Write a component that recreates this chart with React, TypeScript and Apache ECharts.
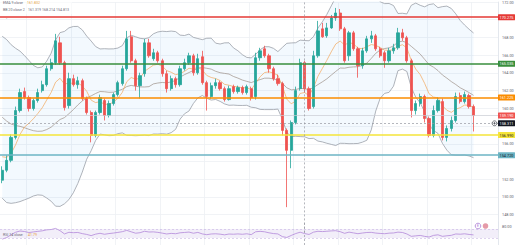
import React, { useEffect, useRef } from "react";
import * as echarts from "echarts";

// closes before the first visible candle (needed for the 20-period bands / RSI)
const priorCloses = [162.0, 162.8, 163.4, 163.0, 163.8, 164.2, 163.6, 164.0, 163.2, 162.2, 161.0, 159.8, 158.4, 157.0, 155.8, 154.6, 153.4, 152.6, 152.2, 151.9];

const opens = [151.89, 153.01, 154.13, 156.72, 159.75, 161.89, 161.21, 159.98, 160.88, 162.0, 162.67, 164.47, 165.15, 167.39, 165.15, 160.31, 163.35, 162.67, 163.12, 161.1, 159.53, 156.94, 159.53, 160.88, 159.19, 160.54, 161.55, 162.79, 164.47, 168.07, 165.37, 162.56, 163.91, 167.39, 165.6, 166.27, 165.37, 163.91, 162.22, 163.35, 162.67, 164.47, 165.15, 165.93, 164.02, 165.82, 162.9, 161.33, 162.56, 162.9, 162.22, 160.99, 162.45, 161.89, 162.34, 161.78, 162.22, 161.33, 165.71, 166.72, 165.93, 164.47, 163.35, 162.79, 157.51, 155.26, 158.4, 162.22, 165.15, 162.22, 160.2, 165.93, 168.97, 168.18, 169.08, 170.2, 170.76, 168.97, 165.93, 168.52, 166.72, 164.81, 166.49, 167.84, 168.18, 166.72, 166.27, 165.37, 166.49, 166.83, 168.52, 167.96, 165.37, 159.75, 160.54, 161.33, 158.85, 156.94, 159.75, 160.76, 156.72, 157.73, 158.63, 161.44, 160.76, 161.44, 160.2];
const closes = [153.01, 154.13, 156.72, 159.75, 161.78, 161.21, 159.98, 160.88, 161.78, 162.67, 164.47, 165.15, 167.62, 165.15, 160.09, 163.35, 162.67, 163.12, 161.1, 159.53, 156.94, 159.53, 161.21, 159.19, 160.54, 161.55, 162.9, 164.47, 167.84, 165.37, 162.56, 163.69, 167.39, 165.93, 166.27, 165.37, 163.91, 162.22, 163.35, 162.67, 164.47, 165.15, 165.93, 164.02, 165.6, 162.9, 161.33, 162.56, 162.9, 162.22, 160.99, 162.22, 161.89, 162.34, 161.78, 162.45, 161.21, 165.71, 166.49, 165.93, 164.47, 163.35, 162.79, 157.51, 155.26, 158.4, 162.0, 165.15, 162.22, 159.98, 165.93, 168.74, 168.07, 169.08, 170.2, 170.76, 168.97, 165.37, 168.52, 166.72, 164.81, 166.49, 167.84, 168.18, 166.72, 165.93, 165.37, 166.49, 166.83, 168.52, 167.96, 165.37, 159.75, 160.54, 161.33, 158.85, 156.94, 159.75, 160.88, 156.72, 157.73, 158.63, 161.33, 160.76, 161.55, 160.2, 159.19];
const lows = [151.55, 152.79, 153.91, 156.49, 159.53, 160.99, 159.64, 159.75, 160.65, 161.78, 162.45, 164.25, 164.92, 164.92, 159.75, 159.98, 162.45, 162.22, 160.88, 159.3, 156.16, 156.72, 159.3, 158.63, 158.97, 160.31, 161.33, 162.56, 164.25, 165.15, 162.0, 161.1, 163.57, 165.71, 165.37, 165.15, 163.57, 161.78, 162.0, 162.34, 162.45, 164.25, 164.92, 163.69, 163.8, 162.67, 159.75, 161.1, 162.22, 162.0, 160.76, 160.88, 161.66, 161.66, 161.55, 161.55, 160.88, 160.99, 165.37, 165.71, 164.02, 163.12, 162.56, 156.94, 148.85, 153.24, 158.18, 162.0, 161.78, 159.75, 159.98, 165.71, 167.96, 167.96, 168.97, 169.87, 168.74, 165.15, 165.37, 166.49, 163.46, 164.47, 166.27, 167.39, 166.49, 165.71, 164.58, 165.15, 166.16, 166.61, 167.62, 165.15, 158.97, 159.3, 160.2, 158.4, 156.72, 156.72, 159.53, 156.38, 156.27, 157.39, 158.4, 160.54, 160.54, 159.98, 157.39];
const highs = [153.46, 154.7, 157.06, 160.2, 162.22, 162.34, 161.44, 161.1, 162.22, 163.12, 164.81, 165.6, 168.4, 168.07, 165.37, 164.02, 163.8, 163.57, 163.35, 161.33, 159.75, 159.75, 161.55, 161.1, 160.88, 161.78, 163.12, 164.81, 168.74, 168.74, 165.6, 164.02, 167.84, 167.84, 166.72, 166.49, 165.6, 164.25, 163.69, 163.57, 164.81, 165.6, 166.27, 166.16, 166.16, 166.49, 163.12, 162.9, 163.35, 163.12, 162.45, 162.56, 162.67, 162.56, 162.56, 162.67, 162.45, 166.27, 166.83, 167.06, 166.16, 164.7, 163.8, 163.01, 157.73, 158.63, 162.45, 165.6, 165.37, 162.45, 166.49, 169.87, 169.64, 169.64, 170.54, 171.33, 171.21, 169.19, 168.74, 168.74, 166.94, 166.83, 168.18, 168.74, 168.4, 166.94, 166.49, 166.83, 167.28, 169.08, 168.97, 168.18, 165.6, 160.88, 161.66, 161.55, 159.08, 160.31, 161.21, 161.1, 158.07, 159.08, 161.78, 161.78, 161.89, 161.66, 160.43];

const emptySlots = 5;
const priceTicksHidden = [146, 170, 158, 154];

const levelPrices = [170.275, 165.035, 161.225, 156.99, 154.72];
const crossPrice = 158.311;
const crossIndex = 68;

const emaHeader = "161.832";
const bbHeader = ["161.319", "168.214", "154.813"];
const rsiHeader = "41.79";

const levelColors = ["#e53935", "#388e3c", "#fb8c00", "#f5e43a", "#6cb4c4"];
const levelTextColors = ["#ffffff", "#ffffff", "#ffffff", "#131722", "#131722"];

function computeIndicators() {
  const all = priorCloses.concat(closes);
  const P = priorCloses.length;
  const upper: number[] = [], lower: number[] = [], basis: number[] = [], band: number[] = [];
  for (let v = 0; v < closes.length; v++) {
    const i = v + P;
    const win = all.slice(i - 19, i + 1);
    const m = win.reduce((a, b) => a + b, 0) / win.length;
    const sd = Math.sqrt(win.reduce((a, b) => a + (b - m) * (b - m), 0) / win.length);
    basis.push(m);
    upper.push(m + 2 * sd);
    lower.push(m - 2 * sd);
    band.push(4 * sd);
  }
  // EMA 9
  const k = 2 / 10;
  let ema = all.slice(0, 9).reduce((a, b) => a + b, 0) / 9;
  const emaAll: number[] = [];
  for (let i = 0; i < all.length; i++) {
    if (i >= 9) ema = all[i] * k + ema * (1 - k);
    emaAll.push(ema);
  }
  const emaVis = emaAll.slice(P);
  // RSI 14 (Wilder)
  let g = 0, l = 0;
  for (let i = 1; i <= 14; i++) {
    const d = all[i] - all[i - 1];
    if (d > 0) g += d; else l -= d;
  }
  g /= 14; l /= 14;
  const rsiAll: (number | null)[] = [];
  for (let i = 0; i < all.length; i++) {
    if (i < 14) { rsiAll.push(null); continue; }
    if (i > 14) {
      const d = all[i] - all[i - 1];
      g = (g * 13 + Math.max(d, 0)) / 14;
      l = (l * 13 + Math.max(-d, 0)) / 14;
    }
    rsiAll.push(l === 0 ? 100 : 100 - 100 / (1 + g / l));
  }
  return { upper, lower, basis, band, emaVis, rsi: rsiAll.slice(P) };
}

export default function App() {
  const ref = useRef<HTMLDivElement>(null);
  useEffect(() => {
    document.body.style.margin = "0";
    document.body.style.overflow = "hidden";
    if (!ref.current) return;
    const chart = echarts.init(ref.current, null, { renderer: "svg" });
    const { lower, basis, band, emaVis, rsi } = computeIndicators();
    const n = closes.length;
    const categories = Array.from({ length: n + emptySlots }, (_, i) => String(i));
    const candles = closes.map((c, i) => [opens[i], c, lows[i], highs[i]]);
    const lastClose = closes[n - 1];
    const font = "Roboto, 'Noto Sans', sans-serif";
    const tag = (text: string, bg: string, fg: string) => ({
      show: true,
      position: "end" as const,
      distance: 0,
      formatter: text,
      backgroundColor: bg,
      color: fg,
      fontSize: 3.8,
      fontFamily: font,
      padding: [1.2, 1.6, 0.8, 1.6],
      borderRadius: 0.5,
    });
    const gridLineColor = "#eef0f4";
    const splitColors = ["rgba(0,0,0,0)"].concat(Array(13).fill(gridLineColor));
    const vSplit = {
      show: true,
      interval: (idx: number) => idx % 10 === 6,
      lineStyle: { color: gridLineColor, width: 0.8 },
    };
    const levelData: any[] = levelPrices.map((p, i) => ({
      yAxis: p,
      lineStyle: { color: levelColors[i], width: 1.6, type: "solid" },
      label: tag(p.toFixed(3), levelColors[i], levelTextColors[i]),
    }));
    levelData.push({
      yAxis: lastClose,
      lineStyle: { color: "#c9ccd3", width: 0.7, type: "solid" },
      label: tag(lastClose.toFixed(3), "#ef5350", "#ffffff"),
    });
    levelData.push({
      yAxis: crossPrice,
      lineStyle: { color: "#9598a1", width: 0.7, type: [2, 2] },
      label: tag(crossPrice.toFixed(3), "#131722", "#ffffff"),
    });
    levelData.push({
      xAxis: crossIndex,
      lineStyle: { color: "#9598a1", width: 0.7, type: [2, 2] },
      label: { show: false },
    });
    const smallText = (text: string, x: number, y: number, color: string, size = 3.6) => ({
      type: "text",
      x,
      y,
      silent: true,
      z: 100,
      style: { text, fill: color, fontSize: size, fontFamily: font },
    });
    const option: any = {
      animation: false,
      backgroundColor: "#ffffff",
      grid: [
        { left: 0, right: 22, top: 1, height: 231.4 },
        { left: 0, right: 22, top: 222, height: 60 },
      ],
      xAxis: [
        {
          type: "category", data: categories, gridIndex: 0, boundaryGap: true,
          axisLine: { show: false }, axisTick: { show: false }, axisLabel: { show: false },
          splitLine: vSplit,
        },
        {
          type: "category", data: categories, gridIndex: 1, boundaryGap: true,
          axisLine: { show: false }, axisTick: { show: false }, axisLabel: { show: false },
          splitLine: vSplit,
        },
      ],
      yAxis: [
        {
          type: "value", gridIndex: 0, position: "right", min: 146, max: 172, interval: 2,
          axisLine: { show: true, lineStyle: { color: "#e0e3eb", width: 0.8 } },
          axisTick: { show: false },
          axisLabel: {
            margin: 4, fontSize: 3.8, color: "#5d606b", fontFamily: font,
            formatter: (v: number) => (priceTicksHidden.indexOf(v) >= 0 ? "" : v.toFixed(2)),
          },
          splitLine: { show: true, lineStyle: { color: splitColors, width: 0.8 } },
        },
        {
          type: "value", gridIndex: 1, position: "right", min: 0, max: 100, interval: 10,
          axisLine: { show: true, lineStyle: { color: "#e0e3eb", width: 0.8 } },
          axisTick: { show: false },
          axisLabel: {
            margin: 4, fontSize: 3.8, color: "#5d606b", fontFamily: font,
            formatter: (v: number) => (v === 80 ? "80.00" : ""),
          },
          splitLine: { show: false },
        },
      ],
      series: [
        {
          name: "bbLower", type: "line", xAxisIndex: 0, yAxisIndex: 0, stack: "bb",
          data: lower, symbol: "none", z: 1, silent: true,
          lineStyle: { color: "#9aa0a8", width: 0.8 },
        },
        {
          name: "bbBand", type: "line", xAxisIndex: 0, yAxisIndex: 0, stack: "bb",
          data: band, symbol: "none", z: 1, silent: true,
          lineStyle: { color: "#9aa0a8", width: 0.8 },
          areaStyle: { color: "rgba(33,150,243,0.08)" },
        },
        {
          name: "bbBasis", type: "line", xAxisIndex: 0, yAxisIndex: 0,
          data: basis, symbol: "none", z: 2, silent: true,
          lineStyle: { color: "#9c8f86", width: 0.7 },
        },
        {
          name: "ema", type: "line", xAxisIndex: 0, yAxisIndex: 0,
          data: emaVis, symbol: "none", z: 2, silent: true,
          lineStyle: { color: "#f2a65a", width: 0.7 },
        },
        {
          name: "price", type: "candlestick", xAxisIndex: 0, yAxisIndex: 0,
          data: candles, barWidth: "62%", z: 3,
          itemStyle: {
            color: "#26a69a", color0: "#ef5350",
            borderColor: "#26a69a", borderColor0: "#ef5350", borderWidth: 0.8,
          },
          markLine: { silent: true, symbol: ["none", "none"], animation: false, data: levelData },
        },
        {
          name: "rsi", type: "line", xAxisIndex: 1, yAxisIndex: 1,
          data: rsi, symbol: "none", silent: true,
          lineStyle: { color: "#b388d9", width: 0.8 },
          markArea: {
            silent: true,
            itemStyle: { color: "rgba(126,87,194,0.10)" },
            data: [[{ yAxis: 30 }, { yAxis: 70 }]],
          },
          markLine: {
            silent: true, symbol: ["none", "none"],
            data: [
              { yAxis: 70, lineStyle: { color: "#c8b6e2", width: 0.6, type: [2, 2] }, label: { show: false } },
              { yAxis: 30, lineStyle: { color: "#c8b6e2", width: 0.6, type: [2, 2] }, label: { show: false } },
              { xAxis: crossIndex, lineStyle: { color: "#9598a1", width: 0.7, type: [2, 2] }, label: { show: false } },
            ],
          },
        },
      ],
      graphic: [
        { type: "rect", shape: { x: 0, y: 0, width: 72, height: 14 }, style: { fill: "rgba(255,255,255,0.6)" }, z: 99, silent: true },
        smallText("EMA 9 close", 3, 1, "#6a6d78"),
        smallText(emaHeader, 27, 1, "#e8a33c"),
        smallText("BB 20 close 2", 3, 8, "#6a6d78"),
        smallText(bbHeader[0], 28, 8, "#6a6d78"),
        smallText(bbHeader[1], 42, 8, "#6a6d78"),
        smallText(bbHeader[2], 56, 8, "#6a6d78"),
        smallText("˄", 6, 17, "#6a6d78", 4),
        smallText("RSI 14 close", 3, 232.5, "#6a6d78"),
        smallText(rsiHeader, 28, 232.5, "#e8a33c"),
        { type: "circle", shape: { cx: 478, cy: 226, r: 2.8 }, style: { fill: "#ffffff", stroke: "#9c6bd0", lineWidth: 0.7 }, z: 100, silent: true },
        smallText("E", 477, 224.2, "#9c6bd0", 3.2),
        { type: "circle", shape: { cx: 485.5, cy: 226, r: 2.8 }, style: { fill: "#e59aa8" }, z: 100, silent: true },
      ],
    };
    chart.setOption(option);
    const py = chart.convertToPixel({ yAxisIndex: 0 }, crossPrice) as number;
    chart.setOption({
      graphic: option.graphic.concat([
        { type: "circle", shape: { cx: 494.5, cy: py, r: 2.4 }, style: { fill: "#ffffff", stroke: "#131722", lineWidth: 0.6 }, z: 100, silent: true },
        { type: "line", shape: { x1: 493.2, y1: py, x2: 495.8, y2: py }, style: { stroke: "#131722", lineWidth: 0.5 }, z: 101, silent: true },
        { type: "line", shape: { x1: 494.5, y1: py - 1.3, x2: 494.5, y2: py + 1.3 }, style: { stroke: "#131722", lineWidth: 0.5 }, z: 101, silent: true },
      ]),
    });
    return () => chart.dispose();
  }, []);
  return <div ref={ref} style={{ width: 520, height: 245 }} />;
}
